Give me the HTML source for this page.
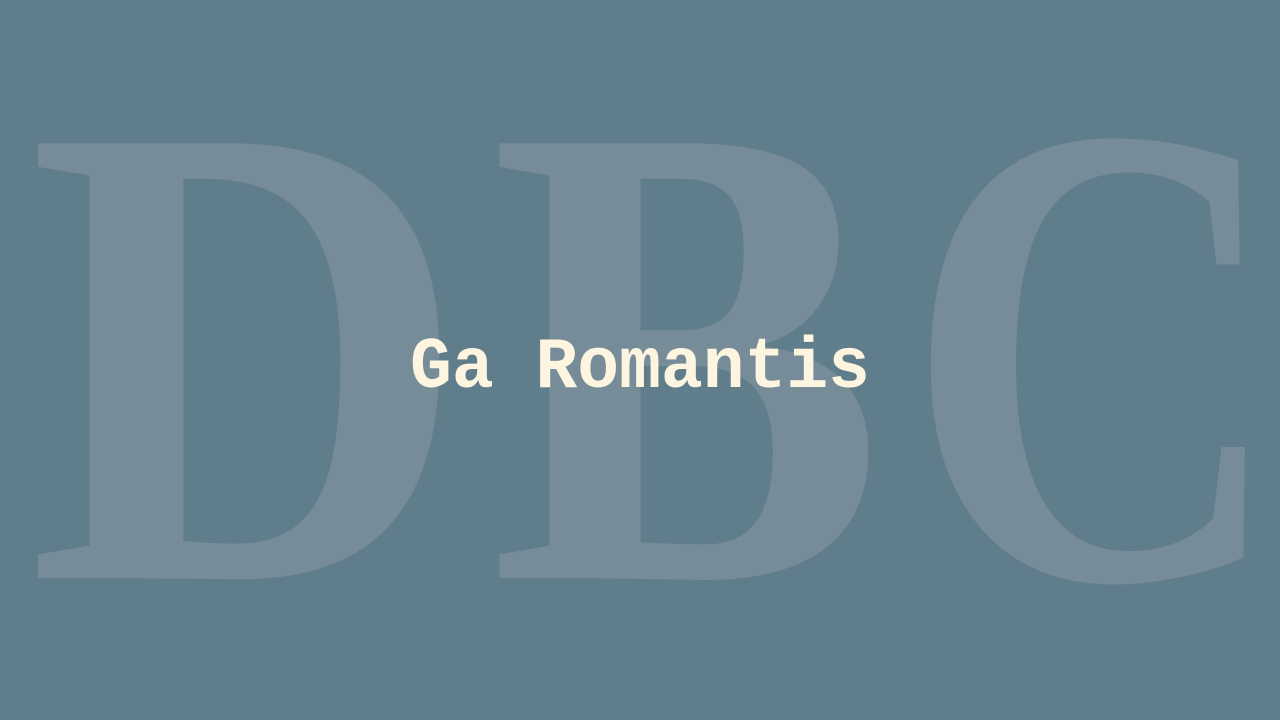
<!DOCTYPE html>
<html>
<head>
<meta charset="utf-8">
<style>
  html,body{margin:0;padding:0;}
  body{width:1280px;height:720px;background:#607d8b;overflow:hidden;}
  svg{display:block;}
</style>
</head>
<body>
<svg width="1280" height="720" viewBox="0 0 1280 720">
  <rect x="0" y="0" width="1280" height="720" fill="#607d8b"/>
  <g font-family="'Liberation Serif', serif" font-weight="bold" font-size="664" fill="#768c99">
    <text transform="translate(27.3,578) scale(0.922,1)" x="0" y="0">D</text>
    <text transform="translate(489.7,578) scale(0.892,1)" x="0" y="0">B</text>
    <text transform="translate(905.1,578) scale(0.792,1)" x="0" y="0">C</text>
  </g>
  <text x="640" y="387" text-anchor="middle" font-family="'Liberation Mono', 'DejaVu Sans Mono', monospace" font-weight="bold" font-size="72" fill="#fdf5e0" textLength="460" lengthAdjust="spacingAndGlyphs">Ga Romantis</text>
</svg>
</body>
</html>
